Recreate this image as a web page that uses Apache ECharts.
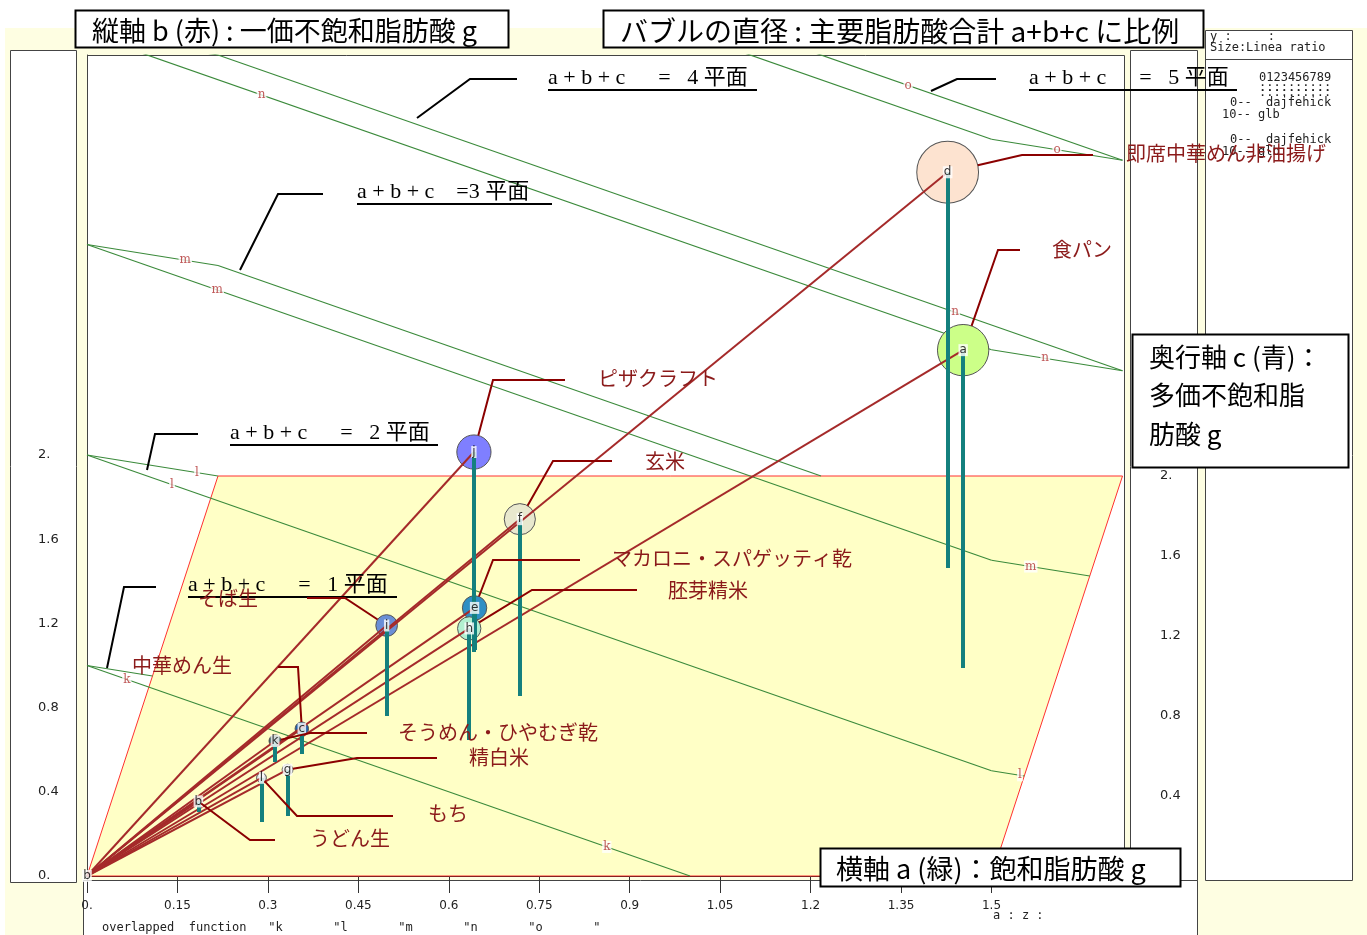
<!DOCTYPE html>
<html>
<head>
<meta charset="utf-8">
<title>主要脂肪酸バブル</title>
<script src="https://cdn.jsdelivr.net/npm/echarts@6.0.0/dist/echarts.min.js"></script>
<style>
  html, body { margin: 0; padding: 0; background: #fff; }
  #main { width: 1367px; height: 935px; }
</style>
</head>
<body>
<div id="main"></div>
<script>
// バブル記号と食品名
var keys = ['a', 'b', 'c', 'd', 'e', 'f', 'g', 'h', 'i', 'j', 'k', 'l'];
var foods = ['食パン', 'うどん生', '中華めん生', '即席中華めん非油揚げ', 'マカロニ・スパゲッティ乾', '玄米',
             '精白米', '胚芽精米', 'そば生', 'ピザクラフト', 'そうめん・ひやむぎ乾', 'もち'];
// a:飽和脂肪酸 b:一価不飽和脂肪酸 c:多価不飽和脂肪酸 (g)
var satA  = [1.34, 0.15, 0.29, 1.26, 0.52, 0.62, 0.30, 0.56, 0.41, 0.52, 0.25, 0.26];
var monoB = [1.51, 0.05, 0.12, 1.88, 0.20, 0.84, 0.22, 0.53, 0.43, 0.95, 0.10, 0.21];
var polyC = [1.04, 0.32, 0.61, 1.54, 1.13, 0.90, 0.30, 0.68, 0.80, 1.12, 0.57, 0.27];
var bubbleColors = ['#ccff88', '#336666', '#1f5fa8', '#fde3d0', '#2e8fc4', '#e8e8ce',
                    '#d8d8d8', '#b2f0d0', '#6b8fd6', '#7f7fff', '#1e4a4a', '#e4e4e4'];

// a+b+c = K の平面
var planeSums = [1, 2, 3, 4, 5];
var planeKeys = ['k', 'l', 'm', 'n', 'o'];
var planeTitles = ['a + b + c      =   1 平面', 'a + b + c      =   2 平面', 'a + b + c    =3 平面',
                   'a + b + c      =   4 平面', 'a + b + c      =   5 平面'];

// 目盛
var aTicks = [0, 0.15, 0.3, 0.45, 0.6, 0.75, 0.9, 1.05, 1.2, 1.35, 1.5];
var bTicks = [0, 0.4, 0.8, 1.2, 1.6, 2];
var cTicks = [0.4, 0.8, 1.2, 1.6, 2];

//斜投影の設定
var PX_A = 603, PX_B = 210.5;         // 1g あたりの px
var KX = 65.5 / PX_A, KY = 200 / PX_B; // 奥行 c のずれ
var A_MAX = 1.5, C_MAX = 2;            // 床面の範囲
var SIZE_PER_G = 13.2;                 // バブル直径

function proj(a, b, c) { return [a + c * KX, b + c * KY]; }
function fmt(v) {
    var s = String(+v.toFixed(2));
    return s.indexOf('.') < 0 ? s + '.' : s;
}

var GRID = {left: 87, top: 55, width: 1037, height: 821};
var X_MAX = GRID.width / PX_A, Y_MAX = GRID.height / PX_B;

// 平面と壁の交線
function planeSegments(K) {
    var segs = {};
    var c1 = Math.min(K, C_MAX);
    segs.a0 = [[0, K, 0], [0, K - c1, c1]];
    var a1 = Math.min(K, A_MAX);
    segs.c0 = [[0, K, 0], [a1, K - a1, 0]];
    if (K > A_MAX) {
        var c2 = Math.min(K - A_MAX, C_MAX);
        segs.a1 = [[A_MAX, K - A_MAX, 0], [A_MAX, K - A_MAX - c2, c2]];
    }
    if (K > C_MAX) {
        var a2 = Math.min(K - C_MAX, A_MAX);
        segs.c1 = [[0, K - C_MAX, C_MAX], [a2, K - C_MAX - a2, C_MAX]];
    }
    return segs;
}
// 記号を置く位置 (平面番号, 壁, 割合)
var planeMarks = [[0, 'c0', 0.066], [0, 'c0', 0.862], [1, 'a0', 0.84], [1, 'c0', 0.094], [1, 'a1', 0.87],
                  [2, 'a0', 0.75], [2, 'c0', 0.144], [2, 'a1', 0.40], [3, 'c0', 0.193], [3, 'c1', 0.815],
                  [3, 'a1', 0.41], [4, 'c1', 0.763], [4, 'a1', 0.5]];

var segData = [];
var segByPlane = [];
planeSums.forEach(function (K) {
    var s = planeSegments(K);
    segByPlane.push(s);
    Object.keys(s).forEach(function (w) {
        segData.push({coords: [proj.apply(null, s[w][0]), proj.apply(null, s[w][1])]});
    });
});
var markData = planeMarks.map(function (m) {
    var seg = segByPlane[m[0]][m[1]];
    var p = seg[0].map(function (v, i) { return v + (seg[1][i] - v) * m[2]; });
    return {value: proj(p[0], p[1], p[2]), name: planeKeys[m[0]]};
});

var sums = keys.map(function (k, i) { return satA[i] + monoB[i] + polyC[i]; });
var centers = keys.map(function (k, i) { return proj(satA[i], monoB[i], polyC[i]); });
var bubbleData = keys.map(function (k, i) {
    return {value: centers[i], name: k, symbolSize: sums[i] * SIZE_PER_G,
            itemStyle: {color: bubbleColors[i]}};
});
// 大きい順 (凡例用)
var order = keys.slice().sort(function (p, q) { return sums[keys.indexOf(q)] - sums[keys.indexOf(p)]; });

var floorPts = [proj(0, 0, 0), proj(A_MAX, 0, 0), proj(A_MAX, 0, C_MAX), proj(0, 0, C_MAX)];

var chart = echarts.init(document.getElementById('main'));

var option = {
    animation: false,
    backgroundColor: '#fefee2',
    grid: {left: GRID.left, top: GRID.top, width: GRID.width, height: GRID.height, show: false},
    xAxis: {
        type: 'value', min: 0, max: X_MAX,
        axisLine: {show: true, onZero: false, lineStyle: {color: '#111', width: 2}},
        axisTick: {show: true, customValues: aTicks, length: 17, lineStyle: {color: '#333'}},
        axisLabel: {customValues: aTicks, margin: 24, color: '#222', fontSize: 12,
                    fontFamily: 'DejaVu Sans', formatter: fmt},
        splitLine: {show: false}
    },
    yAxis: [{
        type: 'value', min: 0, max: Y_MAX, position: 'left',
        axisLine: {show: true, onZero: false, lineStyle: {color: '#444'}},
        axisTick: {show: false},
        axisLabel: {customValues: bTicks, align: 'left', margin: 49, color: '#222', fontSize: 13,
                    fontFamily: 'DejaVu Sans', formatter: fmt},
        splitLine: {show: false}
    }, {
        type: 'value', min: 0, max: Y_MAX / KY, position: 'right',
        axisLine: {show: false}, axisTick: {show: false},
        axisLabel: {customValues: cTicks, align: 'left', margin: 36, color: '#222', fontSize: 13,
                    fontFamily: 'DejaVu Sans', formatter: fmt},
        splitLine: {show: false}
    }],
    series: [
        {   // 床面 b=0
            type: 'custom', silent: true, z: 1, data: [0],
            renderItem: function (params, api) {
                return {type: 'polygon', shape: {points: floorPts.map(function (p) { return api.coord(p); })},
                        style: {fill: '#ffffc6', stroke: '#ff3030', lineWidth: 1}};
            }
        },
        {   // a+b+c=K の交線
            type: 'lines', coordinateSystem: 'cartesian2d', z: 2, silent: true, clip: true,
            data: segData, lineStyle: {color: '#3b8a3b', width: 1.2, opacity: 1}
        },
        {
            type: 'scatter', z: 2, silent: true, symbolSize: 1, itemStyle: {color: 'rgba(0,0,0,0)'},
            data: markData,
            label: {show: true, position: 'inside', formatter: '{b}', color: '#b03030', fontSize: 12,
                    fontFamily: 'DejaVu Serif', backgroundColor: '#fff', padding: [0, 1]}
        },
        {   // バブル
            type: 'scatter', z: 3, data: bubbleData,
            itemStyle: {borderColor: '#555', borderWidth: 1, opacity: 1}
        },
        {   // 原点からの線
            type: 'lines', coordinateSystem: 'cartesian2d', z: 4, silent: true,
            data: centers.map(function (p) { return {coords: [[0, 0], p]}; }),
            lineStyle: {color: '#a52a2a', width: 2, opacity: 1}
        },
        {   // 奥行の柱
            type: 'lines', coordinateSystem: 'cartesian2d', z: 5, silent: true,
            data: keys.map(function (k, i) { return {coords: [centers[i], proj(satA[i], 0, polyC[i])]}; }),
            lineStyle: {color: '#14807e', width: 4, opacity: 1}
        },
        {
            type: 'scatter', z: 6, silent: true, symbolSize: 1, itemStyle: {color: 'rgba(0,0,0,0)'},
            data: [{value: [0, 0], name: 'b'}].concat(keys.map(function (k, i) { return {value: centers[i], name: k}; })),
            label: {show: true, position: 'inside', formatter: '{b}', color: '#000', fontSize: 12,
                    fontFamily: 'DejaVu Sans', backgroundColor: '#fff', padding: [0, 1]}
        }
    ]
};
chart.setOption(option);

// 注記
var callouts = [ // ラベル左x, ラベルy, 折れ点x, 折れ点y, 棚の端x
    [1052, 249, 998, 250, 1020],
    [310, 838, 250, 840, 275],
    [132, 665, 298, 667, 278],
    [1126, 153, 1022, 155, 1093],
    [612, 558, 493, 560, 580],
    [645, 461, 553, 461, 612],
    [469, 757, 357, 758, 437],
    [668, 590, 532, 590, 637],
    [198, 598, 345, 598, 307],
    [598, 378, 493, 380, 565],
    [398, 732, 310, 733, 367],
    [428, 813, 297, 816, 393]
];
var planeCallouts = [ // 平面番号 → 文字位置, 下線の端, 引出線
    {x: 188, y: 585, end: 397, line: [[107, 668], [124, 587], [156, 587]]},
    {x: 230, y: 433, end: 438, line: [[147, 470], [155, 434], [198, 434]]},
    {x: 357, y: 192, end: 552, line: [[240, 270], [278, 194], [323, 194]]},
    {x: 548, y: 78, end: 757, line: [[417, 118], [470, 79], [517, 79]]},
    {x: 1029, y: 78, end: 1237, line: [[931, 91], [957, 79], [996, 79]]}
];

var JP = "'Noto Sans CJK JP', sans-serif";
var MONO = "'DejaVu Sans Mono', monospace";
var gfx = [];
function box(x, y, w, h, fill, stroke, lw, z) {
    gfx.push({type: 'rect', z: z, silent: true, shape: {x: x, y: y, width: w, height: h},
              style: {fill: fill, stroke: stroke || null, lineWidth: lw || 1}});
}
function text(x, y, s, size, family, color, z, extra) {
    var st = {text: s, fontSize: size, fontFamily: family, fill: color, align: 'left', verticalAlign: 'middle'};
    for (var k in extra || {}) st[k] = extra[k];
    gfx.push({type: 'text', x: x, y: y, z: z, silent: true, style: st});
}
function polyline(pts, color, lw, z) {
    gfx.push({type: 'polyline', z: z, silent: true, shape: {points: pts},
              style: {stroke: color, lineWidth: lw, fill: null}});
}

// 背景
box(0, 0, 1367, 28, '#fff', null, 0, -10);
box(0, 0, 5, 935, '#fff', null, 0, -10);
box(10.5, 50.5, 66, 832, '#fff', '#444', 1, -9);
box(1130.5, 50.5, 67, 832, '#fff', '#444', 1, -9);
box(1205.5, 30.5, 147, 850, '#fff', '#444', 1, -9);
box(83.5, 880.5, 1114, 60, '#fff', '#444', 1, -9);
box(87.5, 55.5, 1037, 821, '#fff', '#444', 1, -8);
polyline([[1205, 59.5], [1352, 59.5]], '#444', 1, -7);

// 凡例パネル
text(1210, 37, 'y :     :', 12, MONO, '#222', 20);
text(1210, 48, 'Size:Linea ratio', 12, MONO, '#222', 20);
text(1259, 78, '0123456789', 12, MONO, '#222', 20);
text(1259, 88, '::::::::::', 12, MONO, '#222', 20);
text(1259, 93, '::::::::::', 12, MONO, '#222', 20);
var row1 = ' ' + order.slice(0, 9).join(''), row2 = order.slice(9).join('');
text(1230, 103, '0-- ' + row1, 12, MONO, '#222', 20);
text(1222, 115, '10-- ' + row2, 12, MONO, '#222', 20);
text(1230, 140, '0-- ' + row1, 12, MONO, '#222', 20);
text(1222, 152, '10-- ' + row2, 12, MONO, '#222', 20);

// 下部の文字
text(102, 928, 'overlapped  function   "k       "l       "m       "n       "o       "', 12, MONO, '#222', 20);
text(993, 916, 'a : z :', 12, MONO, '#222', 20);

// 平面の見出し
planeCallouts.forEach(function (p, i) {
    polyline(p.line, '#000', 2, 30);
    text(p.x, p.y, planeTitles[i], 22, "'Liberation Serif', 'Noto Sans CJK JP', serif", '#000', 30);
    polyline([[p.x, p.y + 12], [p.end, p.y + 12]], '#000', 2, 30);
});

// 食品名の引出線
keys.forEach(function (k, i) {
    var co = callouts[i];
    var c = chart.convertToPixel({gridIndex: 0}, centers[i]);
    var dx = co[2] - c[0], dy = co[3] - c[1], d = Math.sqrt(dx * dx + dy * dy) || 1;
    var r = sums[i] * SIZE_PER_G / 2;
    var start = [c[0] + dx / d * r, c[1] + dy / d * r];
    polyline([start, [co[2], co[3]], [co[4], co[3]]], '#8b0000', 2, 40);
    text(co[0], co[1], foods[i], 20, JP, '#8b1a1a', 41);
});

// 軸タイトル
box(75.5, 10.5, 433, 37, '#fff', '#000', 2, 50);
text(92, 31, '縦軸 b (赤) : 一価不飽和脂肪酸 g', 27, JP, '#000', 51);
box(603.5, 10.5, 600, 37, '#fff', '#000', 2, 50);
text(620, 31, 'バブルの直径 : 主要脂肪酸合計 a+b+c に比例', 28, JP, '#000', 51);
box(820.5, 848.5, 360, 38, '#fff', '#000', 2, 50);
text(836, 869, '横軸 a (緑)：飽和脂肪酸 g', 27, JP, '#000', 51);
box(1132.5, 334.5, 216, 133, '#fff', '#000', 2, 50);
text(1149, 357, '奥行軸 c (青)：', 26, JP, '#000', 51);
text(1149, 395, '多価不飽和脂', 26, JP, '#000', 51);
text(1149, 434, '肪酸 g', 26, JP, '#000', 51);

chart.setOption({graphic: gfx});
</script>
</body>
</html>
